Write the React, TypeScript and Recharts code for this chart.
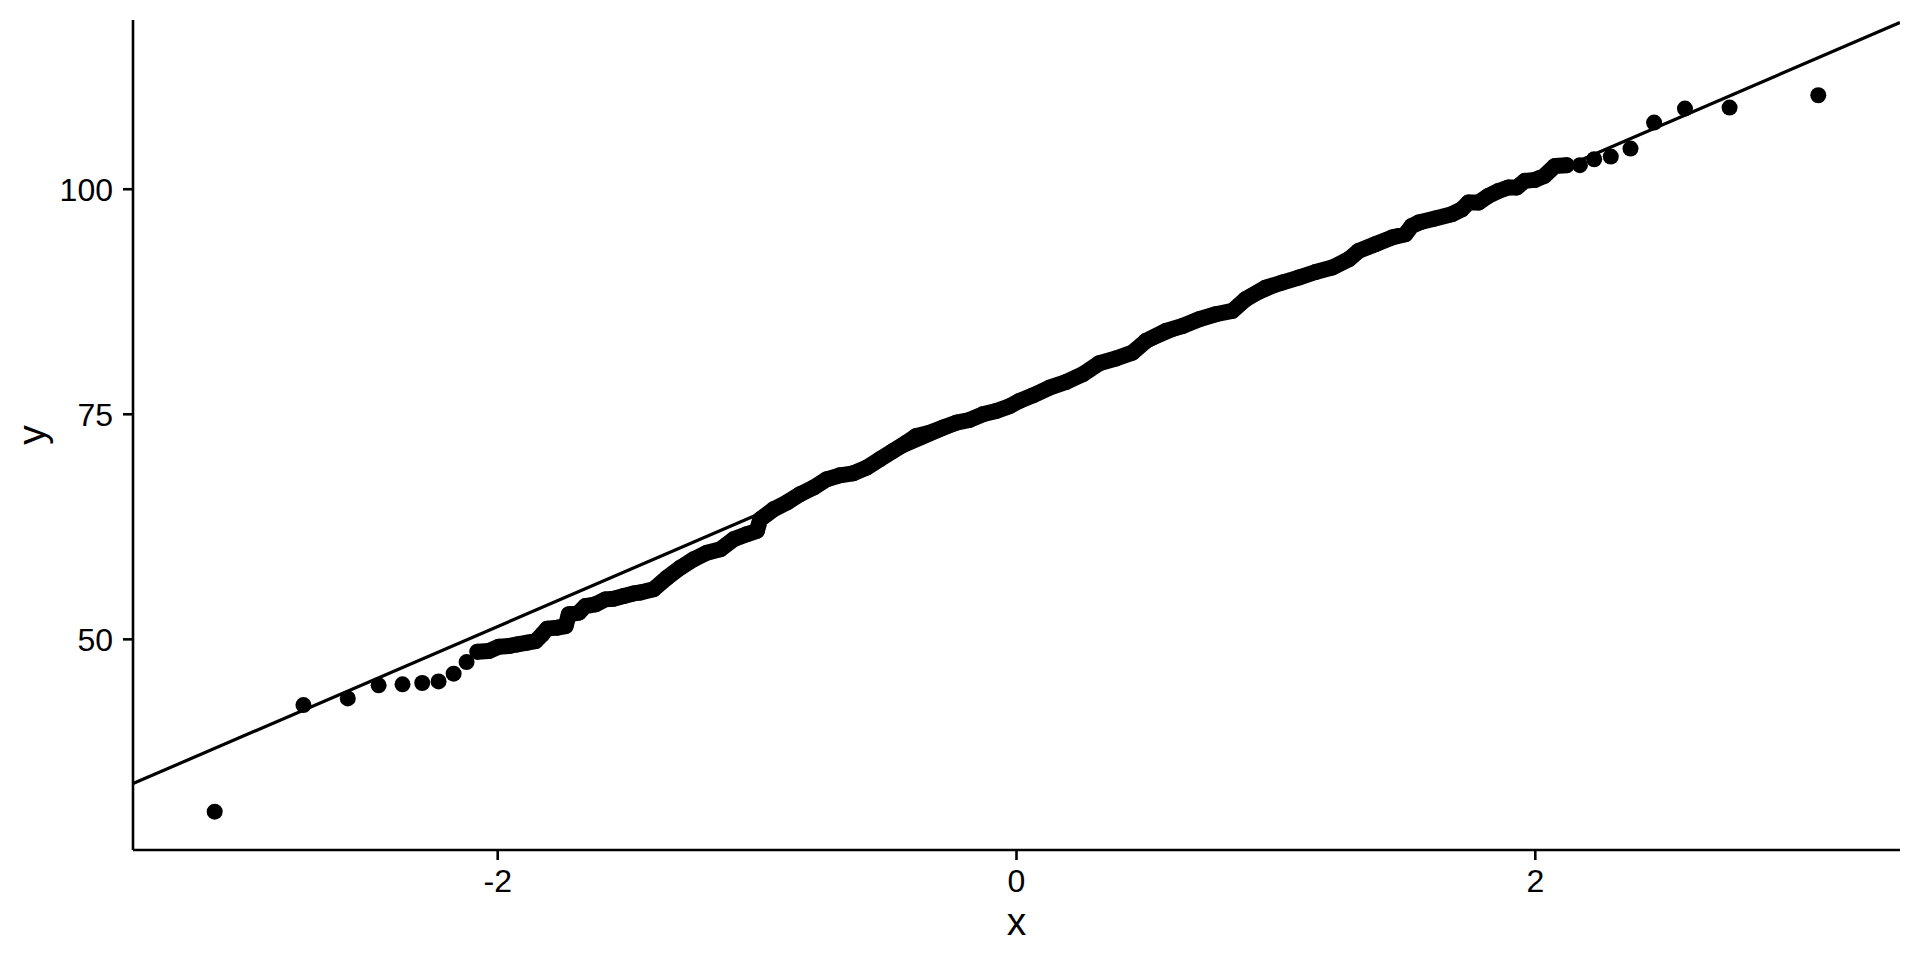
import React from 'react';
import { ComposedChart, Line, Scatter, XAxis, YAxis } from 'recharts';

// theoretical quantile (x) and sample value (y)
const quantiles = [
  -3.091, -2.749, -2.578, -2.459, -2.367, -2.291, -2.228, -2.17, -2.12, -2.078,
  -2.035, -1.995, -1.956, -1.924, -1.886, -1.854, -1.828, -1.809, -1.77, -1.738,
  -1.726, -1.687, -1.662, -1.623, -1.585, -1.553, -1.514, -1.476, -1.45, -1.399,
  -1.347, -1.296, -1.245, -1.193, -1.142, -1.091, -1.04, -1.001, -0.988, -0.937,
  -0.886, -0.835, -0.783, -0.732, -0.681, -0.63, -0.578, -0.527, -0.476, -0.424,
  -0.386, -0.335, -0.283, -0.232, -0.181, -0.13, -0.078, -0.027, 0.012, 0.063,
  0.127, 0.191, 0.255, 0.319, 0.383, 0.447, 0.499, 0.576, 0.64, 0.704,
  0.768, 0.832, 0.883, 0.96, 1.024, 1.088, 1.153, 1.217, 1.281, 1.319,
  1.383, 1.447, 1.499, 1.524, 1.55, 1.614, 1.678, 1.717, 1.742, 1.781,
  1.819, 1.858, 1.896, 1.928, 1.96, 1.999, 2.035, 2.076, 2.121, 2.172,
  2.227, 2.291, 2.367, 2.458, 2.577, 2.749, 3.091,
];

const samples = [
  30.86, 42.7, 43.44, 44.89, 45.0, 45.15, 45.33, 46.19, 47.48, 48.63,
  48.7, 49.19, 49.26, 49.44, 49.63, 49.81, 50.56, 51.19, 51.3, 51.48,
  52.78, 52.96, 53.7, 53.89, 54.44, 54.52, 54.81, 55.1, 55.2, 55.56,
  56.85, 57.96, 58.89, 59.63, 60.0, 61.11, 61.67, 62.04, 63.33, 64.44,
  65.19, 66.11, 66.85, 67.78, 68.22, 68.44, 69.07, 70.0, 70.93, 71.85,
  72.59, 72.96, 73.52, 74.07, 74.37, 75.0, 75.37, 75.9, 76.5, 77.1,
  77.96, 78.59, 79.44, 80.67, 81.19, 81.85, 83.15, 84.26, 84.81, 85.56,
  86.11, 86.48, 87.78, 89.07, 89.63, 90.19, 90.81, 91.3, 92.22, 93.15,
  93.89, 94.63, 95.0, 95.93, 96.3, 96.76, 97.22, 97.78, 98.52, 98.52,
  99.26, 99.81, 100.19, 100.19, 100.93, 101.04, 101.48, 102.59, 102.67, 102.67,
  103.33, 103.63, 104.52, 107.41, 108.96, 109.07, 110.44,
];

// reference line end points at the panel edges
const lineX = [-3.406, 3.406];
const lineY = [33.98, 118.52];

const xTicks = [-2, 0, 2];
const yTicks = [50, 75, 100];

const points = quantiles.map((x, i) => ({ x, y: samples[i] }));
// the dense middle part, where the dots merge into a band
const band = points.filter((p) => p.x >= -2.08 && p.x <= 2.13);
const qqLine = lineX.map((x, i) => ({ x, y: lineY[i] }));

const FONT = '"Liberation Sans", Arial, Helvetica, sans-serif';
const DOT_R = 8;

function Dot(props: { cx?: number; cy?: number }) {
  const { cx = 0, cy = 0 } = props;
  return <circle cx={cx} cy={cy} r={DOT_R} fill="#000" />;
}

export default function App() {
  return (
    <div style={{ position: 'absolute', left: 0, top: 0, background: '#fff' }}>
      <ComposedChart
        width={1920}
        height={960}
        margin={{ top: 20, right: 20, left: 0, bottom: 0 }}
      >
        <XAxis
          type="number"
          dataKey="x"
          domain={[-3.406, 3.406]}
          ticks={xTicks}
          allowDataOverflow
          height={110}
          axisLine={{ stroke: '#000', strokeWidth: 2.6 }}
          tickLine={{ stroke: '#000', strokeWidth: 2.6 }}
          tickSize={10}
          tickMargin={9}
          tick={{ fontSize: 32, fill: '#000', fontFamily: FONT }}
          label={{
            value: 'x',
            position: 'insideBottom',
            offset: 25,
            style: { fontSize: 39, fill: '#000', fontFamily: FONT },
          }}
        />
        <YAxis
          type="number"
          dataKey="y"
          domain={[26.6, 118.8]}
          ticks={yTicks}
          allowDataOverflow
          width={133}
          axisLine={{ stroke: '#000', strokeWidth: 2.6 }}
          tickLine={{ stroke: '#000', strokeWidth: 2.6 }}
          tickSize={10}
          tickMargin={10}
          tick={{ fontSize: 32, fill: '#000', fontFamily: FONT }}
          label={{
            value: 'y',
            angle: -90,
            position: 'insideLeft',
            offset: 31,
            style: { fontSize: 39, fill: '#000', fontFamily: FONT, textAnchor: 'middle' },
          }}
        />
        <Line
          data={band}
          dataKey="y"
          stroke="#000"
          strokeWidth={DOT_R * 2}
          style={{ strokeWidth: DOT_R * 2, strokeLinecap: 'round', strokeLinejoin: 'round' }}
          dot={false}
          activeDot={false}
          isAnimationActive={false}
        />
        <Scatter data={points} dataKey="y" shape={Dot} isAnimationActive={false} />
        <Line
          data={qqLine}
          dataKey="y"
          stroke="#000"
          strokeWidth={3.2}
          dot={false}
          activeDot={false}
          isAnimationActive={false}
        />
      </ComposedChart>
    </div>
  );
}
